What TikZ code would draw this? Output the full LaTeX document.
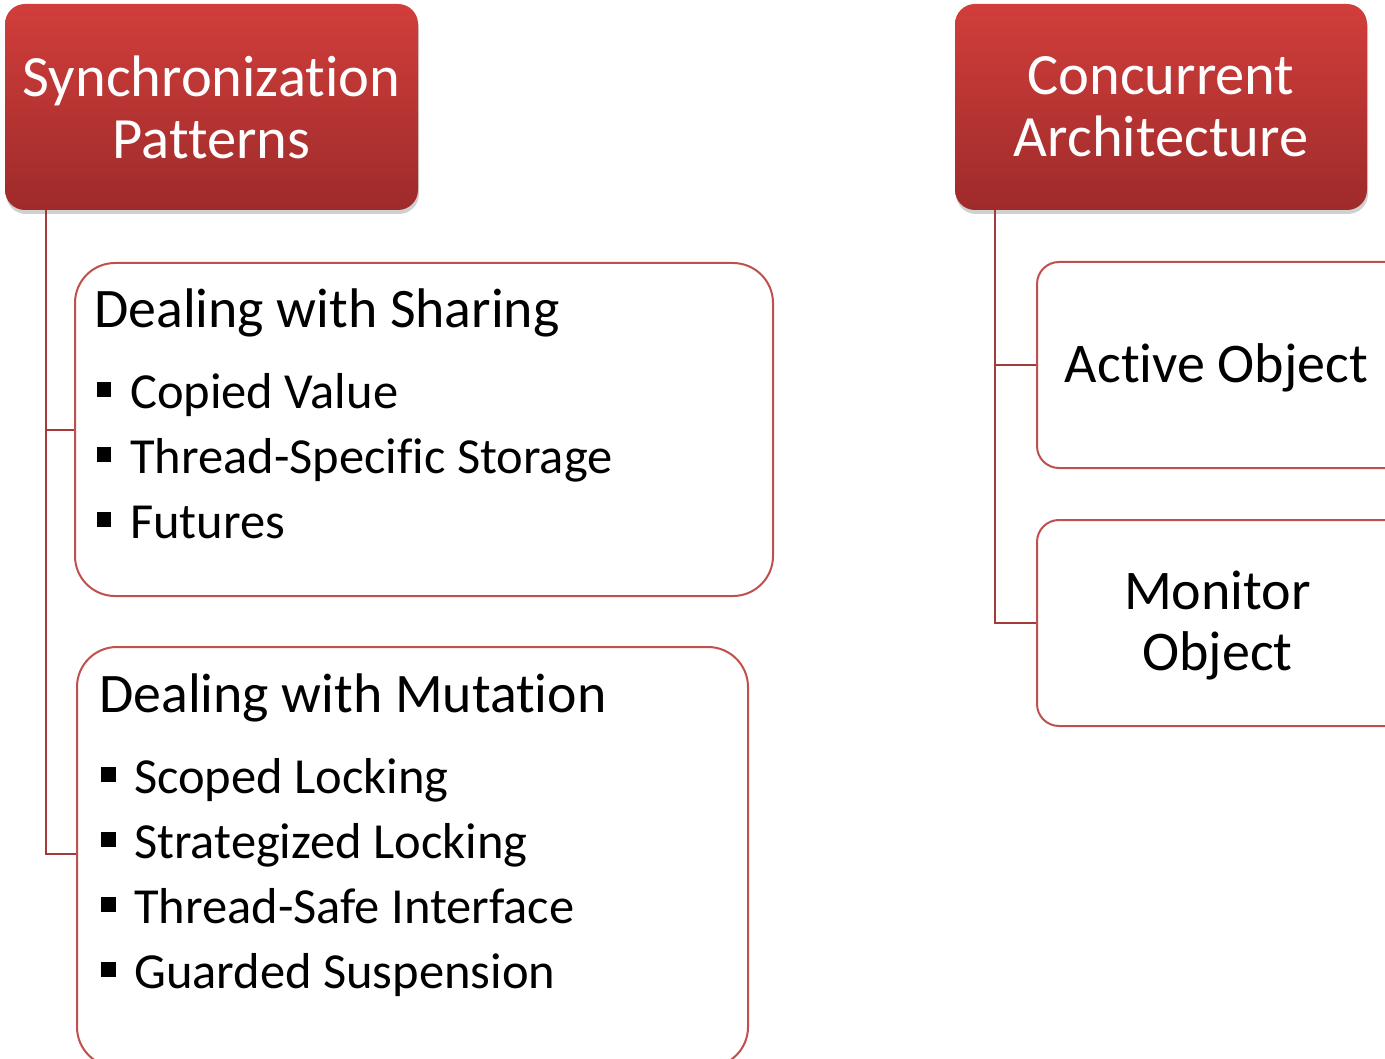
\documentclass[tikz,border=0pt]{standalone}
\usepackage{fontspec}
\setmainfont{Carlito}[Ligatures=NoCommon]
\usetikzlibrary{shadows}
\definecolor{hdtop}{HTML}{D13E3B}
\definecolor{hdbot}{HTML}{9E2B2A}
\definecolor{boxline}{HTML}{C0504D}
\definecolor{conn}{HTML}{A33B3A}
\tikzset{
  header/.style={rounded corners=20pt, top color=hdtop, bottom color=hdbot, draw=none,
    text=white, align=center, font=\fontsize{58.5}{62}\selectfont,
    drop shadow={shadow xshift=1pt, shadow yshift=-4pt, opacity=0.3, fill=black!60}},
  listbox/.style={rounded corners=40pt, draw=boxline, line width=2pt, fill=white},
  itembox/.style={rounded corners=22pt, draw=boxline, line width=2pt, fill=white},
  itemtxt/.style={anchor=base, font=\fontsize{56}{61}\selectfont, inner sep=0},
  title/.style={anchor=base west, font=\fontsize{55.8}{60}\selectfont, inner sep=0},
  item/.style={anchor=base west, font=\fontsize{50.5}{56}\selectfont, inner sep=0},
  bul/.style={fill=black, minimum size=14.5pt, inner sep=0, draw=none},
  connector/.style={draw=conn, line width=2pt},
}
\begin{document}
\begin{tikzpicture}[x=1pt, y=-1pt]
\useasboundingbox (0,0) rectangle (1385,1059);
\fill[white] (0,0) rectangle (1385,1059);
% headers
\node[header, minimum width=413pt, minimum height=206pt] (sync) at (211.5,107) {Synchronization\\Patterns};
\node[header, minimum width=412pt, minimum height=206pt] (conc) at (1161,107) {Concurrent\\Architecture};
% list boxes
\node[listbox, minimum width=698pt, minimum height=333pt] (share) at (424,429.5) {};
\node[listbox, minimum width=671pt, minimum height=420pt] (mut) at (412.5,857) {};
\node[itembox, minimum width=400pt, minimum height=206pt] (act) at (1237,365) {};
\node[itembox, minimum width=400pt, minimum height=206pt] (mon) at (1237,623) {};
% connectors
\coordinate (lj1) at (46,430);
\coordinate (lj2) at (46,854);
\coordinate (rj1) at (995,365);
\coordinate (rj2) at (995,623);
\draw[connector] (sync.south west -| lj1) -- (lj2) -- (lj2 -| mut.west);
\draw[connector] (lj1) -- (lj1 -| share.west);
\draw[connector] (conc.south west -| rj1) -- (rj2) -- (rj2 -| mon.west);
\draw[connector] (rj1) -- (rj1 -| act.west);
% item texts
\node[itemtxt] (acttxt) at (1216.5,383) {Active Object};
\node[itemtxt] (montxt1) at (1217.5,609) {Monitor};
\node[itemtxt] (montxt2) at (1217.5,670) {Object};
% sharing list
\node[title] (t1) at (94,328) {Dealing with Sharing};
\node[bul] (b11) at (104,389.5) {};
\node[item] (i11) at (130,408) {Copied Value};
\node[bul] (b12) at (104,454.5) {};
\node[item] (i12) at (130,473) {Thread-Specific Storage};
\node[bul] (b13) at (104,519.5) {};
\node[item] (i13) at (130,538) {Futures};
% mutation list
\node[title] (t2) at (99,712) {Dealing with Mutation};
\node[bul] (b21) at (108.5,774.5) {};
\node[item] (i21) at (134,793) {Scoped Locking};
\node[bul] (b22) at (108.5,839.5) {};
\node[item] (i22) at (134,858) {Strategized Locking};
\node[bul] (b23) at (108.5,904.5) {};
\node[item] (i23) at (134,923) {Thread-Safe Interface};
\node[bul] (b24) at (108.5,969.5) {};
\node[item] (i24) at (134,988) {Guarded Suspension};
\end{tikzpicture}
\end{document}
